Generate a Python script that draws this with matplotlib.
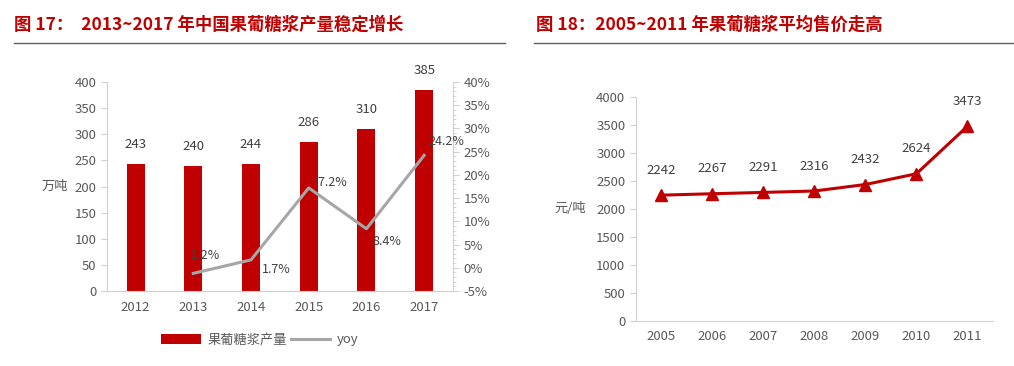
import matplotlib
matplotlib.use('Agg')
import matplotlib.pyplot as plt
from matplotlib.ticker import MultipleLocator, FuncFormatter

plt.rcParams['font.family'] = ['Noto Sans CJK SC', 'DejaVu Sans']

# data
prod_years = ['2012', '2013', '2014', '2015', '2016', '2017']
production = [243, 240, 244, 286, 310, 385]
yoy = [None, -1.2, 1.7, 17.2, 8.4, 24.2]

price_years = ['2005', '2006', '2007', '2008', '2009', '2010', '2011']
price = [2242, 2267, 2291, 2316, 2432, 2624, 3473]

RED = '#C00000'
GREY_LINE = '#A6A6A6'
TXT = '#595959'
SPINE = '#D0D0D0'
FS = 9.5

fig = plt.figure(figsize=(10.14, 3.66), dpi=100)

# titles
fig.text(14 / 1014, 1 - 25 / 366, '图 17：  2013~2017 年中国果葡糖浆产量稳定增长',
         color=RED, fontsize=12.5, fontweight='bold', va='center', ha='left')
fig.text(536 / 1014, 1 - 25 / 366, '图 18：2005~2011 年果葡糖浆平均售价走高',
         color=RED, fontsize=12.5, fontweight='bold', va='center', ha='left')
fig.add_artist(plt.Line2D([14 / 1014, 505 / 1014], [1 - 43 / 366] * 2, color='#606060', lw=1.0))
fig.add_artist(plt.Line2D([534 / 1014, 1.0], [1 - 43 / 366] * 2, color='#606060', lw=1.0))


def style_axis(ax):
    for side in ['top', 'right']:
        ax.spines[side].set_visible(False)
    for side in ['left', 'bottom']:
        ax.spines[side].set_color(SPINE)
    ax.tick_params(axis='y', colors=SPINE, labelcolor=TXT, labelsize=FS, length=4)
    ax.tick_params(axis='x', length=0, labelcolor=TXT, labelsize=FS, pad=7)


# left chart
ax1 = fig.add_axes([106.7 / 1014, 1 - 291 / 366, (453 - 106.7) / 1014, (291 - 82) / 366])
x1 = list(range(len(prod_years)))
ax1.bar(x1, production, width=0.31, color=RED, label='果葡糖浆产量')
for xi, v in zip(x1, production):
    ax1.annotate(str(v), (xi, v), xytext=(0, 14), textcoords='offset points',
                 ha='center', va='center', fontsize=FS, color='#404040')
ax1.set_xlim(-0.5, 5.5)
ax1.set_ylim(0, 400)
ax1.yaxis.set_major_locator(MultipleLocator(50))
ax1.set_xticks(x1)
ax1.set_xticklabels(prod_years)
style_axis(ax1)
ax1.set_ylabel('万吨', rotation=0, fontsize=FS, color=TXT, labelpad=14, va='center')

ax2 = ax1.twinx()
yx = [xi for xi, v in zip(x1, yoy) if v is not None]
yv = [v for v in yoy if v is not None]
ax2.plot(yx, yv, color=GREY_LINE, lw=2.2, label='yoy')
offsets = [(7, 13), (18, -7), (15, 4), (15, -9), (16, 10)]
for xi, v, off in zip(yx, yv, offsets):
    ax2.annotate(f'{v:.1f}%', (xi, v), xytext=off, textcoords='offset points',
                 ha='center', va='center', fontsize=FS - 0.5, color='#404040')
ax2.set_ylim(-5, 40)
ax2.yaxis.set_major_locator(MultipleLocator(5))
ax2.yaxis.set_minor_locator(MultipleLocator(1))
ax2.yaxis.set_major_formatter(FuncFormatter(lambda v, p: f'{v:.0f}%'))
for side in ['top', 'left', 'bottom']:
    ax2.spines[side].set_visible(False)
ax2.spines['right'].set_color(SPINE)
ax2.tick_params(axis='y', which='major', colors=SPINE, labelcolor=TXT, labelsize=FS, length=4)
ax2.tick_params(axis='y', which='minor', colors=SPINE, length=2)

h1, l1 = ax1.get_legend_handles_labels()
h2, l2 = ax2.get_legend_handles_labels()
fig.legend(h1 + h2, l1 + l2, loc='center', bbox_to_anchor=(260 / 1014, 1 - 340 / 366),
           ncol=2, frameon=False, fontsize=FS, handlelength=3.0, handleheight=0.8,
           columnspacing=0.3, handletextpad=0.5, labelcolor=TXT)

# right chart
ax3 = fig.add_axes([635.7 / 1014, 1 - 320.7 / 366, (993 - 635.7) / 1014, (320.7 - 96.7) / 366])
x3 = list(range(len(price_years)))
ax3.plot(x3, price, color=RED, lw=2.2, marker='^', markersize=8)
for xi, v in zip(x3, price):
    ax3.annotate(str(v), (xi, v), xytext=(0, 18), textcoords='offset points',
                 ha='center', va='center', fontsize=FS, color='#404040')
ax3.set_xlim(-0.5, 6.5)
ax3.set_ylim(0, 4000)
ax3.yaxis.set_major_locator(MultipleLocator(500))
ax3.set_xticks(x3)
ax3.set_xticklabels(price_years)
style_axis(ax3)
ax3.set_ylabel('元/吨', rotation=0, fontsize=FS, color=TXT, labelpad=19, va='center')

fig.savefig('out.png', dpi=100)
